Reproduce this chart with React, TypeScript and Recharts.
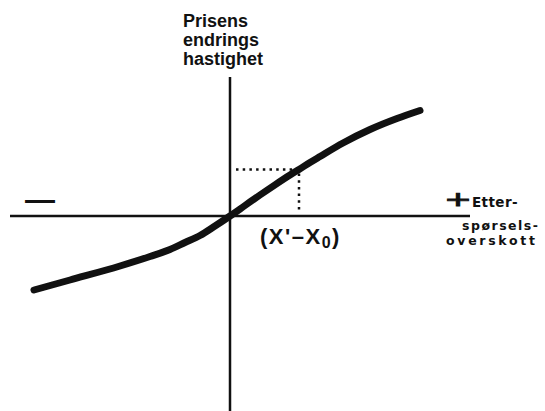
import React from "react";
import { ComposedChart, Line, Scatter, XAxis, YAxis } from "recharts";

// Rate of price change as a function of excess demand (arbitrary units)
const demandExcess = [-19.6, -16, -11, -8, -6, -4.5, -3, -1.5, 0, 1.5, 3, 4.5, 6, 6.9, 8, 9, 11.3, 14, 16.7, 19];
const priceChangeRate = [
  -7.4, -6.4, -5.0, -4.05, -3.35, -2.65, -1.95, -1.0, 0, 1.05, 2.1, 3.12, 4.1, 4.65, 5.35, 5.95, 7.3, 8.65, 9.75,
  10.55,
];

// Marked excess demand (X' - X0) and the price change it gives
const markedExcess = 6.9;
const markedRate = 4.65;

const yTitleLines = ["Prisens", "endrings", "hastighet"];
const xTitleLines = ["Etter-", "spørsels-", "overskott"];
const excessLabel = ["(X'–X", "0", ")"];
const signLabels = ["—", "+"];

const X_DOMAIN: [number, number] = [-23, 31.5];
const Y_DOMAIN: [number, number] = [-19.5, 21.6];

const INK = "#111";
const FONT = "'Liberation Sans', Arial, sans-serif";
const SMALL_FONT = "'DejaVu Sans', sans-serif";

const curve = demandExcess.map((x, i) => ({ x, y: priceChangeRate[i] }));
const xAxisLine = [
  { x: -22, y: 0 },
  { x: 24, y: 0 },
];
const yAxisLine = [
  { x: 0, y: 13.9 },
  { x: 0, y: Y_DOMAIN[0] },
];
const guide = [
  { x: 0.6, y: markedRate },
  { x: markedExcess, y: markedRate },
  { x: markedExcess, y: 0.4 },
];

const yTitleAnchor = [{ x: -4.7, y: 18.9 }];
const xTitleAnchor = [{ x: 22, y: 0.9 }];
const excessAnchor = [{ x: 3, y: -2.8 }];
const signAnchors = [
  { x: -19, y: 1.7, text: signLabels[0] },
  { x: 22.8, y: 1.7, text: signLabels[1] },
];

const YTitle = (p: any) => (
  <text x={p.cx} y={p.cy} fill={INK} fontFamily={FONT} fontWeight="bold" fontSize={18}>
    {yTitleLines.map((t, i) => (
      <tspan key={t} x={p.cx} dy={i === 0 ? 0 : 19}>
        {t}
      </tspan>
    ))}
  </text>
);

const XTitle = (p: any) => (
  <g fill={INK} fontFamily={SMALL_FONT} fontWeight="bold" fontSize={12.5}>
    <text x={p.cx + 22} y={p.cy} fontSize={13.5} letterSpacing={0.4}>
      {xTitleLines[0]}
    </text>
    <text x={p.cx + 12} y={p.cy + 23} letterSpacing={1.5}>
      {xTitleLines[1]}
    </text>
    <text x={p.cx - 4} y={p.cy + 37.5} letterSpacing={2.7}>
      {xTitleLines[2]}
    </text>
  </g>
);

const ExcessText = (p: any) => (
  <text x={p.cx} y={p.cy} fill={INK} fontFamily={FONT} fontWeight="bold" fontSize={22} letterSpacing={1.5}>
    {excessLabel[0]}
    <tspan dy={4} fontSize={16}>
      {excessLabel[1]}
    </tspan>
    <tspan dy={-4}>{excessLabel[2]}</tspan>
  </text>
);

const SignText = (p: any) => {
  const plus = p.payload.text === "+";
  return (
    <text
      x={p.cx}
      y={p.cy}
      fill={INK}
      fontFamily={FONT}
      fontWeight={plus ? "normal" : "bold"}
      fontSize={plus ? 26 : 30}
      textAnchor="middle"
      dominantBaseline="central"
      stroke={plus ? INK : undefined}
      strokeWidth={plus ? 0.8 : undefined}
      textLength={plus ? 25 : undefined}
      lengthAdjust={plus ? "spacingAndGlyphs" : undefined}
    >
      {p.payload.text}
    </text>
  );
};

const lineCommon = {
  dataKey: "y",
  stroke: INK,
  dot: false,
  activeDot: false,
  legendType: "none" as const,
  isAnimationActive: false,
};

export default function App() {
  return (
    <div style={{ position: "absolute", left: 0, top: 0, width: 545, height: 411, background: "#fff" }}>
      <ComposedChart width={545} height={411} margin={{ top: 0, right: 0, bottom: 0, left: 0 }}>
        <XAxis type="number" dataKey="x" domain={X_DOMAIN} allowDataOverflow hide />
        <YAxis type="number" dataKey="y" domain={Y_DOMAIN} allowDataOverflow hide />
        <Line {...lineCommon} data={xAxisLine} type="linear" strokeWidth={2.5} />
        <Line {...lineCommon} data={yAxisLine} type="linear" strokeWidth={2.5} />
        <Line {...lineCommon} data={guide} type="linear" strokeWidth={2.5} strokeDasharray="2.5 4.2" />
        <Line {...lineCommon} data={curve} type="monotone" strokeWidth={7} strokeLinecap="round" />
        <Scatter data={yTitleAnchor} shape={YTitle} isAnimationActive={false} />
        <Scatter data={xTitleAnchor} shape={XTitle} isAnimationActive={false} />
        <Scatter data={excessAnchor} shape={ExcessText} isAnimationActive={false} />
        <Scatter data={signAnchors} shape={SignText} isAnimationActive={false} />
      </ComposedChart>
    </div>
  );
}
